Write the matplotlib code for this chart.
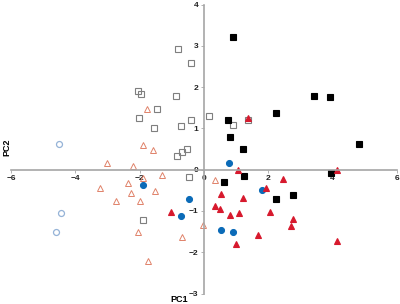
import matplotlib
matplotlib.use("Agg")
import matplotlib.pyplot as plt

plt.rcParams['font.family'] = ['Liberation Sans', 'DejaVu Sans']

# open grey squares
sq_open_x = [-0.82, -0.40, -2.04, -1.96, -0.87, -1.47, -2.02, -1.55, -0.72, -0.40,
             0.16, 0.90, 1.38, -0.85, -0.69, -0.54, -0.47, -1.91]
sq_open_y = [2.93, 2.58, 1.90, 1.83, 1.78, 1.46, 1.25, 1.01, 1.06, 1.20,
             1.29, 1.07, 1.20, 0.33, 0.42, 0.51, -0.17, -1.22]

# filled black squares
sq_fill_x = [0.91, 3.43, 3.92, 2.24, 0.76, 0.82, 1.22, 4.83, 1.25, 0.63, 3.95, 2.78, 2.24]
sq_fill_y = [3.22, 1.79, 1.76, 1.37, 1.20, 0.80, 0.50, 0.62, -0.16, -0.31, -0.07, -0.61, -0.71]

# filled red triangles
tri_fill_x = [1.38, 1.05, 4.15, 2.46, 1.94, 0.52, 1.21, 0.35, 0.49, 0.82, 1.08,
              2.05, 2.77, 2.69, 1.67, 0.99, 4.14, -1.04]
tri_fill_y = [1.25, -0.02, -0.01, -0.22, -0.45, -0.59, -0.68, -0.88, -0.96, -1.09, -1.06,
              -1.03, -1.20, -1.37, -1.59, -1.80, -1.72, -1.02]

# open orange triangles
tri_open_x = [-1.76, -1.89, -1.58, -2.22, -3.02, -1.30, -1.89, -2.36, -3.22, -1.52,
              -2.26, -1.98, -2.74, -2.06, -0.67, -1.75, 0.33, -0.04]
tri_open_y = [1.46, 0.60, 0.47, 0.10, 0.16, -0.12, -0.20, -0.32, -0.45, -0.51,
              -0.56, -0.75, -0.77, -1.51, -1.63, -2.22, -0.25, -1.35]

# filled blue circles
circ_fill_x = [0.79, 1.80, 0.54, 0.91, -1.91, -0.47, -0.71]
circ_fill_y = [0.15, -0.50, -1.46, -1.50, -0.36, -0.72, -1.12]

# open light blue circles
circ_open_x = [-4.51, -4.45, -4.61]
circ_open_y = [0.62, -1.05, -1.50]

fig = plt.figure(figsize=(4, 3.04), dpi=100)
ax = fig.add_axes([11 / 400, 10.5 / 304, 386 / 400, 289 / 304])

ms = 4.3
ax.plot(sq_open_x, sq_open_y, 's', ms=ms, mfc='none', mec='#7f7f7f', mew=0.8)
ax.plot(sq_fill_x, sq_fill_y, 's', ms=ms, mfc='black', mec='black', mew=0.8)
ax.plot(tri_open_x, tri_open_y, '^', ms=ms + 0.5, mfc='none', mec='#e0826a', mew=0.7)
ax.plot(circ_open_x, circ_open_y, 'o', ms=ms, mfc='none', mec='#95b3d7', mew=0.9)
ax.plot(circ_fill_x, circ_fill_y, 'o', ms=ms, mfc='#0b6bb8', mec='#0b6bb8', mew=0.8)
ax.plot(tri_fill_x, tri_fill_y, '^', ms=ms + 0.3, mfc='#d7192d', mec='#d7192d', mew=0.8)

ax.set_xlim(-6, 6)
ax.set_ylim(-3, 4)
ax.set_xticks([-6, -4, -2, 0, 2, 4, 6])
ax.set_yticks([-3, -2, -1, 0, 1, 2, 3, 4])

for side in ['top', 'right']:
    ax.spines[side].set_visible(False)
for side in ['left', 'bottom']:
    ax.spines[side].set_position(('data', 0))
    ax.spines[side].set_color('#a6a6a6')
    ax.spines[side].set_linewidth(1.2)

ax.tick_params(axis='both', direction='out', length=2, width=0.6, color='#a6a6a6',
               labelsize=6, labelcolor='#222222', pad=2)
for lbl in ax.get_xticklabels() + ax.get_yticklabels():
    lbl.set_fontweight('bold')
ax.patch.set_visible(False)

fig.text(179 / 400, 1 - 299 / 304, 'PC1', fontsize=6.5, fontweight='bold',
         ha='center', va='center')
fig.text(7 / 400, 1 - 147 / 304, 'PC2', fontsize=6.5, fontweight='bold',
         ha='center', va='center', rotation=90)

fig.savefig('out.png', dpi=100)
